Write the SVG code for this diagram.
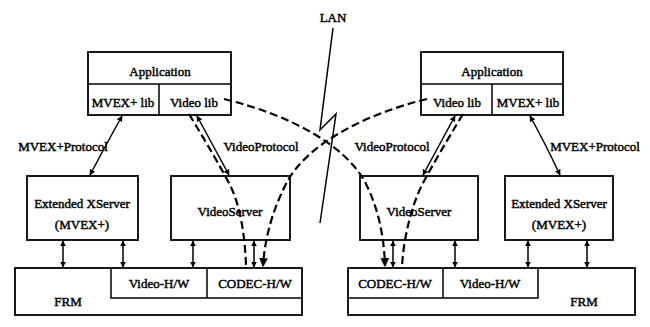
<svg xmlns="http://www.w3.org/2000/svg" width="650" height="327" viewBox="0 0 650 327">
  <style>
    .box { fill: #fff; stroke: #000; stroke-width: 1.8; }
    .div { fill: none; stroke: #000; stroke-width: 1.5; }
    .txt { font-family: "Liberation Serif", "Times New Roman", serif; font-size: 13px; fill: #000; stroke: #000; stroke-width: 0.45; text-anchor: middle; }
    .solid { fill: none; stroke: #000; stroke-width: 1.5; }
    .dash { fill: none; stroke: #000; stroke-width: 2.2; stroke-dasharray: 8 4; }
  </style>
  <defs>
    <marker id="ah" viewBox="0 0 10 10" refX="9" refY="5" markerWidth="4" markerHeight="5" orient="auto-start-reverse" markerUnits="strokeWidth">
      <path d="M0,0 L10,5 L0,10 z" fill="#000"/>
    </marker>
  </defs>

  <!-- LAN label and link -->
  <g id="lan">
    <text class="txt" x="333" y="22">LAN</text>
    <polyline class="solid" points="333,28 320,130 336,114 320,223"/>
  </g>

  <!-- Host A (left) -->
  <g id="appA">
    <rect class="box" x="88" y="52" width="143" height="63"/>
    <line class="div" x1="88" y1="84" x2="231" y2="84"/>
    <line class="div" x1="159" y1="84" x2="159" y2="115"/>
    <text class="txt" x="160" y="76">Application</text>
    <text class="txt" x="123" y="107">MVEX+ lib</text>
    <text class="txt" x="194" y="107">Video lib</text>
  </g>
  <g id="xserverA">
    <rect class="box" x="27" y="176" width="111" height="64"/>
    <text class="txt" x="82" y="208">Extended XServer</text>
    <text class="txt" x="82" y="229">(MVEX+)</text>
  </g>
  <g id="videoserverA">
    <rect class="box" x="171" y="176" width="119" height="64"/>
    <text class="txt" x="230" y="216">VideoServer</text>
  </g>
  <g id="hwA">
    <rect class="box" x="15" y="268" width="287" height="47"/>
    <polyline class="div" points="111,268 111,298 302,298"/>
    <line class="div" x1="207" y1="268" x2="207" y2="298"/>
    <text class="txt" x="68" y="306">FRM</text>
    <text class="txt" x="159" y="288">Video-H/W</text>
    <text class="txt" x="255" y="288">CODEC-H/W</text>
  </g>

  <!-- Host B (right) -->
  <g id="appB">
    <rect class="box" x="421" y="52" width="142" height="63"/>
    <line class="div" x1="421" y1="84" x2="563" y2="84"/>
    <line class="div" x1="492" y1="84" x2="492" y2="115"/>
    <text class="txt" x="492" y="76">Application</text>
    <text class="txt" x="457" y="107">Video lib</text>
    <text class="txt" x="528" y="107">MVEX+ lib</text>
  </g>
  <g id="videoserverB">
    <rect class="box" x="360" y="176" width="118" height="64"/>
    <text class="txt" x="419" y="216">VideoServer</text>
  </g>
  <g id="xserverB">
    <rect class="box" x="505" y="176" width="108" height="64"/>
    <text class="txt" x="559" y="208">Extended XServer</text>
    <text class="txt" x="559" y="229">(MVEX+)</text>
  </g>
  <g id="hwB">
    <rect class="box" x="348" y="268" width="287" height="47"/>
    <polyline class="div" points="348,298 538,298 538,268"/>
    <line class="div" x1="443" y1="268" x2="443" y2="298"/>
    <text class="txt" x="395" y="288">CODEC-H/W</text>
    <text class="txt" x="490" y="288">Video-H/W</text>
    <text class="txt" x="584" y="306">FRM</text>
  </g>

  <!-- protocol labels -->
  <g id="labels">
    <text class="txt" x="63" y="151">MVEX+Protocol</text>
    <text class="txt" x="261" y="151">VideoProtocol</text>
    <text class="txt" x="392" y="151">VideoProtocol</text>
    <text class="txt" x="595" y="151">MVEX+Protocol</text>
  </g>

  <!-- connectors -->
  <g id="connectors">
    <!-- protocol links -->
    <path class="solid" d="M122,116 Q107,143 90,175" marker-start="url(#ah)" marker-end="url(#ah)"/>
    <path class="solid" d="M197,116 L229,175" marker-start="url(#ah)" marker-end="url(#ah)"/>
    <path class="solid" d="M455,116 L423,175" marker-start="url(#ah)" marker-end="url(#ah)"/>
    <path class="solid" d="M530,116 Q545,143 560,175" marker-start="url(#ah)" marker-end="url(#ah)"/>

    <!-- local server to hardware links -->
    <line class="solid" x1="63" y1="241" x2="63" y2="267" marker-start="url(#ah)" marker-end="url(#ah)"/>
    <line class="solid" x1="123" y1="241" x2="123" y2="267" marker-start="url(#ah)" marker-end="url(#ah)"/>
    <line class="solid" x1="193" y1="241" x2="193" y2="267" marker-start="url(#ah)" marker-end="url(#ah)"/>
    <line class="solid" x1="254" y1="241" x2="254" y2="267" marker-start="url(#ah)" marker-end="url(#ah)"/>
    <line class="solid" x1="393" y1="241" x2="393" y2="267" marker-start="url(#ah)" marker-end="url(#ah)"/>
    <line class="solid" x1="455" y1="241" x2="455" y2="267" marker-start="url(#ah)" marker-end="url(#ah)"/>
    <line class="solid" x1="528" y1="241" x2="528" y2="267" marker-start="url(#ah)" marker-end="url(#ah)"/>
    <line class="solid" x1="587" y1="241" x2="587" y2="267" marker-start="url(#ah)" marker-end="url(#ah)"/>

    <!-- video data paths -->
    <path class="dash" d="M189,114 C206,142 220,166 230,185 C240,205 245,235 246,266"/>
    <path class="dash" d="M463,114 C446,142 432,166 422,185 C412,205 404,235 402,266"/>
    <path class="dash" d="M224,99 C290,115 345,145 365,182 C378,207 384,235 385,266" marker-end="url(#ah)"/>
    <path class="dash" d="M427,99 C362,115 307,145 287,182 C274,207 265,235 263,266" marker-end="url(#ah)"/>
  </g>
</svg>
